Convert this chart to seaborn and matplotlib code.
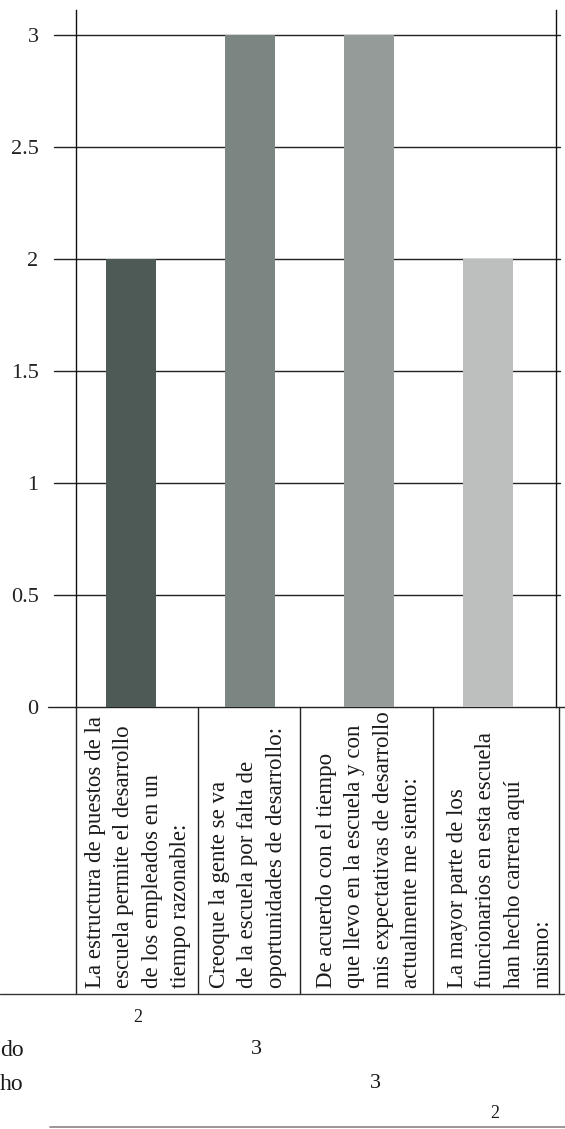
import matplotlib
matplotlib.use("Agg")
import matplotlib.pyplot as plt
import matplotlib.transforms as mtransforms
import seaborn as sns
import pandas as pd

# Survey items (shown rotated in the table under the bars) and their scores
questions = [
    "La estructura de puestos de la\nescuela permite el desarrollo\nde los empleados en un\ntiempo razonable:",
    "Creoque la gente se va\nde la escuela por falta de\noportunidades de desarrollo:",
    "De acuerdo con el tiempo\nque llevo en la escuela y con\nmis expectativas de desarrollo\nactualmente me siento:",
    "La mayor parte de los\nfuncionarios en esta escuela\nhan hecho carrera aquí\nmismo:",
]
scores = [2, 3, 3, 2]
bar_colors = ["#4d5a56", "#7b8581", "#959b98", "#bdbfbe"]
y_ticks = [0, 0.5, 1, 1.5, 2, 2.5, 3]
y_tick_labels = ["0", "0.5", "1", "1.5", "2", "2.5", "3"]
row_labels = ["", "do", "ho", ""]

W, H = 565, 1129
sns.set_theme(style="white")
plt.rcParams["font.family"] = ["Liberation Serif", "DejaVu Serif"]

fig = plt.figure(figsize=(W / 100, H / 100), dpi=100)
fig.patch.set_facecolor("white")

# plot area in pixels
left_px, right_px, base_px, top_px = 76, 556, 707, 10
ax = fig.add_axes([left_px / W, 1 - base_px / H,
                   (right_px - left_px) / W, (base_px - top_px) / H])

df = pd.DataFrame({"item": [f"q{i}" for i in range(len(scores))], "score": scores})
sns.barplot(data=df, x="item", y="score", hue="item", palette=bar_colors,
            legend=False, width=0.42, saturation=1, linewidth=0,
            edgecolor="none", ax=ax, zorder=3)

unit = (base_px - 35) / 3.0
ax.set_ylim(0, (base_px - top_px) / unit)
ax.set_xlim(-0.458, 3.572)
ax.set_xlabel("")
ax.set_ylabel("")
ax.set_xticks([])
ax.set_yticks(y_ticks)
ax.set_yticklabels(y_tick_labels, fontsize=16, color="#222222")
ax.tick_params(axis="y", length=0, pad=27)

for s in ["top", "bottom"]:
    ax.spines[s].set_visible(False)
for s in ["left", "right"]:
    ax.spines[s].set_visible(True)
    ax.spines[s].set_color("#111111")
    ax.spines[s].set_linewidth(1.0)

span = right_px - left_px
for v in y_ticks:
    if v == 0:
        x0, x1 = (48 - left_px) / span, (565 - left_px) / span
    else:
        x0, x1 = (54 - left_px) / span, (560 - left_px) / span
    ax.axhline(v, xmin=x0, xmax=x1, color="#222222", lw=1.0,
               clip_on=False, zorder=2)

# overlay in pixel coordinates for the table below the chart
ov = fig.add_axes([0, 0, 1, 1])
ov.set_xlim(0, W)
ov.set_ylim(H, 0)
ov.axis("off")

col_edges = [76, 198, 300, 433, 559]
table_bottom = 994
for xe in col_edges:
    ov.plot([xe, xe], [base_px, table_bottom], color="#222222", lw=1.0)
ov.plot([0, W], [table_bottom, table_bottom], color="#333333", lw=1.0)

text_offsets = [9, 11, 16, 14]
for q, x0, dx in zip(questions, col_edges[:-1], text_offsets):
    ov.text(x0 + dx, 988, q, rotation=90, ha="left", va="bottom",
            fontsize=16.5, color="#1a1a1a", linespacing=1.46,
            multialignment="left")

# score rows under the table
blend = mtransforms.blended_transform_factory(ax.transData, ov.transData)
row_y = [1017, 1050, 1084, 1113]
for i, (lab, val, yy) in enumerate(zip(row_labels, scores, row_y)):
    if lab:
        ov.text(0, yy, lab, ha="left", va="center", fontsize=17, color="#1a1a1a")
    ax.text(i + 0.06, yy, str(val), transform=blend, ha="center", va="center",
            fontsize=16 if val == 3 else 13, color="#1a1a1a", clip_on=False)

ov.plot([50, W], [1127, 1127], color="#8c8283", lw=1.2)

fig.savefig("out.png", dpi=100, facecolor="white")
